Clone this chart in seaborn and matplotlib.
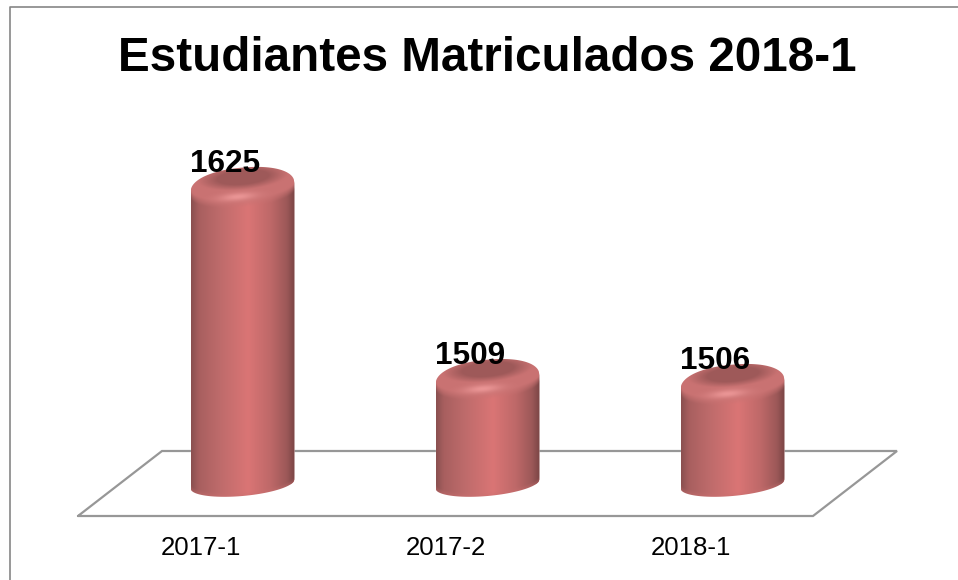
import numpy as np
import pandas as pd
import seaborn as sns
import matplotlib
matplotlib.use('Agg')
import matplotlib.pyplot as plt
from matplotlib.lines import Line2D
from matplotlib.patches import Polygon
from matplotlib.transforms import Affine2D

# Datos del grafico
periodos = ['2017-1', '2017-2', '2018-1']
matriculados = [1625, 1509, 1506]
titulo = 'Estudiantes Matriculados 2018-1'

# El eje no empieza en cero, la base del cilindro queda en este valor
valor_base = 1446
px_por_unidad = 1.656

# Medidas en pixeles de la figura
ancho_fig, alto_fig = 958, 580
izq, der, arriba, abajo = 78, 813, 110, 516
fondo_x, fondo_y = 84, 65
radio_tapa, radio_base, inclinacion = 20, 12, 4.5

sns.set_theme(style='white')
plt.rcParams['font.family'] = ['Liberation Sans', 'DejaVu Sans']

fig = plt.figure(figsize=(ancho_fig / 100, alto_fig / 100), dpi=100)
ax = fig.add_axes([izq / ancho_fig, 1 - abajo / alto_fig,
                   (der - izq) / ancho_fig, (abajo - arriba) / alto_fig])

df = pd.DataFrame({'periodo': periodos, 'alto': np.array(matriculados) - valor_base})
sns.barplot(data=df, x='periodo', y='alto', bottom=valor_base, width=0.424,
            color='#c46a6a', saturation=1, ax=ax, zorder=3)
ax.set_xlim(-0.5, 2.5)
ax.set_ylim(valor_base, valor_base + (abajo - arriba) / px_por_unidad)

# Los cilindros van a media profundidad del piso
medio = Affine2D().translate(fondo_x / 2, fondo_y / 2 - 0.5)
trans = ax.transData + medio

# Piso en perspectiva
fx = fondo_x / (der - izq)
fy = fondo_y / (abajo - arriba)
ax.plot([0, 1, 1 + fx, fx, 0], [0, 0, fy, fy, 0], transform=ax.transAxes,
        color='#979797', lw=1.6, clip_on=False, zorder=1, solid_joinstyle='miter')


def mezcla(a, b, t):
    return a + (b - a) * np.clip(t, 0, 1)[..., None]


def plano(hex_, forma):
    return np.ones(forma + (3,)) * np.array(matplotlib.colors.to_rgb(hex_))


# Sombreado de un cilindro, alturas en pixeles sobre la base
def sombreado(u, yy, alto):
    pos = [-1, -0.85, -0.45, 0.1, 0.55, 0.85, 1]
    cols = ['#8a5050', '#a85f5f', '#be6b6b', '#da7575', '#bd6868', '#9c5858', '#7a4545']
    cols = np.array([matplotlib.colors.to_rgb(c) for c in cols])
    cuerpo = np.stack([np.interp(u, pos, cols[:, i]) for i in range(3)], axis=-1)

    dy = yy - alto - inclinacion * u
    # Centro oscuro de la tapa sobre un bisel claro
    r = np.sqrt((u / 0.7) ** 2 + ((dy - 10) / 10) ** 2)
    tapa = mezcla(plano('#9e5959', u.shape), plano('#c97272', u.shape), (r - 0.7) / 0.55)
    borde = -14 * np.sqrt(np.clip(1 - u ** 2, 0, 1))
    img = mezcla(cuerpo, tapa, (dy - borde + 6) / 8)
    # Brillo frontal
    brillo = np.exp(-((u + 0.1) / 0.36) ** 2 - ((dy + 9) / 4) ** 2)
    img = mezcla(img, plano('#ea9595', u.shape), brillo)
    # Borde inferior un poco mas claro
    fondo = (-(yy - inclinacion * u) - radio_base * np.sqrt(np.clip(1 - u ** 2, 0, 1)) + 4) / 4
    img = mezcla(img, plano('#c96f6f', u.shape), fondo * 0.4)
    return np.clip(img, 0, 1)


for barra, valor in zip(ax.patches, matriculados):
    x0, ancho = barra.get_x(), barra.get_width()
    xc = x0 + ancho / 2
    alto_px = (valor - valor_base) * px_por_unidad

    # Silueta: base eliptica y tapa redondeada
    t = np.linspace(-1, 1, 160)
    y_abajo = -radio_base * np.sqrt(1 - t ** 2) + inclinacion * t
    y_arriba = alto_px + inclinacion * t + radio_tapa * (1 - np.abs(t) ** 2.2) ** (1 / 2.2)
    xs = np.r_[t, t[::-1]]
    ys = np.r_[y_abajo, y_arriba[::-1]]
    sil = Polygon(np.c_[xc + xs * ancho / 2, valor_base + ys / px_por_unidad],
                  closed=True, transform=trans, fc='none', ec='none')
    ax.add_patch(sil)

    barra.set_transform(trans)
    barra.set_clip_path(sil)

    # Imagen con el degradado
    px_ancho = int(ancho * (der - izq) / 3)
    y_min, y_max = -radio_base - 8, alto_px + radio_tapa + 8
    uu = np.linspace(-1, 1, px_ancho * 2)
    vv = np.linspace(y_min, y_max, int(y_max - y_min) * 2)
    U, V = np.meshgrid(uu, vv)
    im = ax.imshow(sombreado(U, V, alto_px), origin='lower', aspect='auto',
                   extent=(x0, x0 + ancho, valor_base + y_min / px_por_unidad,
                           valor_base + y_max / px_por_unidad),
                   transform=trans, zorder=4, interpolation='bilinear')
    im.set_clip_path(sil)

    ax.annotate(str(valor), xy=(xc, valor), xytext=(fondo_x / 2 - 17, fondo_y / 2 + 23),
                textcoords='offset pixels', ha='center', va='center',
                fontsize=22.7, fontweight='bold', color='black', zorder=6)

ax.set_xlim(-0.5, 2.5)
ax.set_ylim(valor_base, valor_base + (abajo - arriba) / px_por_unidad)

ax.set_xlabel('')
ax.set_ylabel('')
ax.set_yticks([])
ax.tick_params(axis='x', length=0, pad=14.3, labelsize=18.6, labelcolor='black')
ax.patch.set_alpha(0)
sns.despine(ax=ax, left=True, bottom=True)

fig.suptitle(titulo, x=487.5 / ancho_fig, y=1 - 58.5 / alto_fig, ha='center', va='center',
             fontsize=34.3, fontweight='bold', color='black')

# Marco del grafico, solo arriba y a la izquierda
fig.add_artist(Line2D([9.5 / ancho_fig, 9.5 / ancho_fig, 1], [0, 1 - 6.5 / alto_fig, 1 - 6.5 / alto_fig],
                      color='#868686', lw=1.2))

fig.savefig('out.png', dpi=100, facecolor='white')
